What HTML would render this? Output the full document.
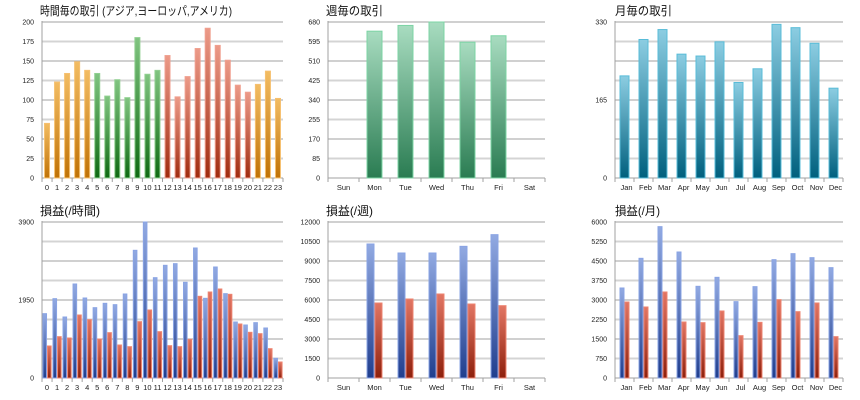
<!DOCTYPE html>
<html><head><meta charset="utf-8"><style>
body{margin:0;background:#fff;width:860px;height:400px;overflow:hidden}
svg{display:block}
</style></head><body>
<svg id="c" width="860" height="400" xmlns="http://www.w3.org/2000/svg">
<defs>
<linearGradient id="gO" x1="0" y1="0" x2="0" y2="1"><stop offset="0" stop-color="#f2bc62"/><stop offset="1" stop-color="#c07206"/></linearGradient>
<linearGradient id="gG" x1="0" y1="0" x2="0" y2="1"><stop offset="0" stop-color="#80c480"/><stop offset="1" stop-color="#0e6a12"/></linearGradient>
<linearGradient id="gR" x1="0" y1="0" x2="0" y2="1"><stop offset="0" stop-color="#ec9a88"/><stop offset="1" stop-color="#a02c10"/></linearGradient>
<linearGradient id="gW" x1="0" y1="0" x2="0" y2="1"><stop offset="0" stop-color="#a8dcc0"/><stop offset="1" stop-color="#2a7c52"/></linearGradient>
<linearGradient id="gM" x1="0" y1="0" x2="0" y2="1"><stop offset="0" stop-color="#8ccde2"/><stop offset="1" stop-color="#00607e"/></linearGradient>
<linearGradient id="gB" x1="0" y1="0" x2="0" y2="1"><stop offset="0" stop-color="#92aae2"/><stop offset="1" stop-color="#203e8e"/></linearGradient>
<linearGradient id="gP" x1="0" y1="0" x2="0" y2="1"><stop offset="0" stop-color="#e27664"/><stop offset="1" stop-color="#8e200c"/></linearGradient>
</defs>
</svg>
<script>
const hours=["0","1","2","3","4","5","6","7","8","9","10","11","12","13","14","15","16","17","18","19","20","21","22","23"];
const days=["Sun","Mon","Tue","Wed","Thu","Fri","Sat"];
const months=["Jan","Feb","Mar","Apr","May","Jun","Jul","Aug","Sep","Oct","Nov","Dec"];
const hourTrades=[70,123,134,149,138,134,105,126,103,180,133,138,157,104,130,166,192,170,151,119,110,120,137,102];
const hourRegion=["O","O","O","O","O","G","G","G","G","G","G","G","R","R","R","R","R","R","R","R","R","O","O","O"];
const dayTrades=[0,640,665,680,592,620,0];
const monthTrades=[216,293,314,262,258,288,202,231,325,318,285,190];
const hourProfit=[1608,1983,1525,2350,2000,1758,1867,1833,2100,3192,3900,2508,2817,2858,2392,3250,1992,2775,2108,1400,1325,1383,1250,492];
const hourLoss=[800,1033,1000,1575,1458,975,1133,825,783,1408,1700,1158,808,783,967,2042,2150,2225,2092,1350,1142,1108,733,400];
const dayProfit=[0,10308,9615,9615,10128,11026,0];
const dayLoss=[0,5769,6077,6462,5692,5564,0];
const monthProfit=[3462,4603,5821,4846,3526,3872,2936,3513,4551,4782,4628,4244];
const monthLoss=[2923,2731,3308,2154,2128,2577,1628,2141,3013,2551,2885,1590];
const hourTicks=["0","25","50","75","100","125","150","175","200"];
const dayTicks=["0","85","170","255","340","425","510","595","680"];
const monthTicks=["0","","","","165","","","","330"];
const hourPTicks=["0","","","","1950","","","","3900"];
const dayPTicks=["0","1500","3000","4500","6000","7500","9000","10500","12000"];
const monthPTicks=["0","750","1500","2250","3000","3750","4500","5250","6000"];

const NS="http://www.w3.org/2000/svg";
const svg=document.getElementById('c');
function mk(tag,attrs,parent,name){const e=document.createElementNS(NS,tag);for(const k in attrs)e.setAttribute(k,attrs[k]);


(parent||svg).appendChild(e);return e;}
const borders={gO:"#f6c070",gG:"#90d090",gR:"#f0a090",gW:"#7cd4a4",gM:"#58bcd8",gB:"#8aa4e4",gP:"#ee8470"};
function chart(o){
  const g=mk('g',{},svg,o.name);
  const x0=o.x0,x1=o.x1,y0=o.y0,y1=o.y1,max=o.max,n=o.cats.length,slot=(x1-x0)/n;
  const ys=v=>y1-(v/max)*(y1-y0);
  const t=mk('text',{x:o.tx,y:y0-7,'font-size':12,textLength:o.tw,lengthAdjust:'spacingAndGlyphs','font-family':'"Liberation Sans","Noto Sans CJK JP",sans-serif',fill:'#111'},g,'chart-title');t.textContent=o.title;
  for(let i=0;i<o.ticks.length;i++){const v=max*i/(o.ticks.length-1),y=ys(v);
    const light=i%2===1;
    if(i>0)mk('line',{x1:x0,x2:x1,y1:y,y2:y,stroke:light?'#d4d4d4':'#a0a0a0','stroke-width':light?2:1},g,'gridline');
    if(o.ticks[i]!==""){const tl=mk('text',{x:x0-8,y:y+2.5,'font-size':7,'text-anchor':'end','font-family':'"Liberation Sans",sans-serif',fill:'#222'},g,'y-tick-label');tl.textContent=o.ticks[i];}
  }
  mk('line',{x1:x0,x2:x0,y1:y0-1,y2:y1,stroke:'#a0a0a0'},g,'y-axis');
  mk('line',{x1:x0,x2:x1,y1:y1,y2:y1,stroke:'#a0a0a0'},g,'x-axis');
  for(let i=0;i<=n;i++){const x=x0+i*slot;mk('line',{x1:x,x2:x,y1:y1,y2:y1+4,stroke:'#a0a0a0'},g,'x-tick');}
  o.cats.forEach((c,i)=>{const cx=x0+(i+0.5)*slot;
    const tl=mk('text',{x:cx+(o.lo||0),y:y1+12,'font-size':o.cf||7.5,'text-anchor':'middle','font-family':'"Liberation Sans",sans-serif',fill:'#222'},g,'x-tick-label');tl.textContent=c;
    o.series.forEach((s,k)=>{const v=s.data[i];if(!v)return;const fill=typeof s.fill==='function'?s.fill(i):s.fill;
      const bx=cx-o.bw*o.series.length/2+k*o.bw+0.5,by=ys(v);
      mk('rect',{x:bx,y:by,width:o.bw-1,height:y1-by,fill:'url(#'+fill+')',stroke:borders[fill],'stroke-width':1},g,'bar-'+s.name+'-'+c);
    });
  });
}
const T1=22,B1=178,T2=222,B2=378;
chart({name:'hourly-trades-chart',title:'時間毎の取引 (アジア,ヨーロッパ,アメリカ)',tw:192,tx:40,x0:42,x1:283,y0:T1,y1:B1,max:200,cats:hours,ticks:hourTicks,bw:6,
  series:[{name:'trades',data:hourTrades,fill:i=>'g'+hourRegion[i]}]});
chart({name:'weekly-trades-chart',title:'週毎の取引',tw:57,tx:326,x0:328,x1:545,y0:T1,y1:B1,max:680,cats:days,ticks:dayTicks,bw:16,
  series:[{name:'trades',data:dayTrades,fill:'gW'}]});
chart({name:'monthly-trades-chart',title:'月毎の取引',tw:57,tx:615,x0:615,x1:843,y0:T1,y1:B1,max:330,cats:months,ticks:monthTicks,bw:10,lo:2,
  series:[{name:'trades',data:monthTrades,fill:'gM'}]});
chart({name:'hourly-pnl-chart',title:'損益(/時間)',tw:60,tx:40,x0:42,x1:283,y0:T2,y1:B2,max:3900,cats:hours,ticks:hourPTicks,bw:4.6,
  series:[{name:'profit',data:hourProfit,fill:'gB'},{name:'loss',data:hourLoss,fill:'gP'}]});
chart({name:'weekly-pnl-chart',title:'損益(/週)',tw:47,tx:326,x0:328,x1:545,y0:T2,y1:B2,max:12000,cats:days,ticks:dayPTicks,bw:8,
  series:[{name:'profit',data:dayProfit,fill:'gB'},{name:'loss',data:dayLoss,fill:'gP'}]});
chart({name:'monthly-pnl-chart',title:'損益(/月)',tw:45,tx:615,x0:615,x1:843,y0:T2,y1:B2,max:6000,cats:months,ticks:monthPTicks,bw:5,lo:2,
  series:[{name:'profit',data:monthProfit,fill:'gB'},{name:'loss',data:monthLoss,fill:'gP'}]});
</script>
</body></html>
